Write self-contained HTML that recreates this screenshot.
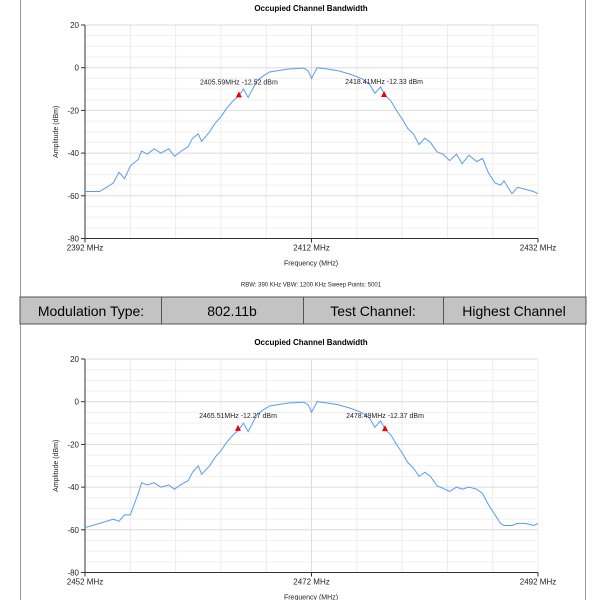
<!DOCTYPE html>
<html><head><meta charset="utf-8">
<style>
body{margin:0;background:#fff;width:600px;height:600px;overflow:hidden;font-family:"Liberation Sans",sans-serif}
svg{position:absolute;left:0;top:0}
</style></head>
<body>
<svg id="s" width="600" height="600">
<line x1="20.5" y1="0" x2="20.5" y2="600" stroke="#999"/>
<line x1="585.5" y1="0" x2="585.5" y2="600" stroke="#999"/>
<g>
<rect x="20" y="297" width="566" height="27" fill="#c3c3c3" stroke="#555"/>
<line x1="161.5" y1="297" x2="161.5" y2="324" stroke="#555"/>
<line x1="303.5" y1="297" x2="303.5" y2="324" stroke="#555"/>
<line x1="443.5" y1="297" x2="443.5" y2="324" stroke="#555"/>
<text x="91" y="316" font-size="14" text-anchor="middle">Modulation Type:</text>
<text x="232" y="316" font-size="14" text-anchor="middle">802.11b</text>
<text x="373" y="316" font-size="14" text-anchor="middle">Test Channel:</text>
<text x="514" y="316" font-size="14" text-anchor="middle">Highest Channel</text>
</g>
</svg>
<script>
const offsets=[0,1.3,2.5,3.0,3.5,4.0,4.7,5.0,5.5,6.1,6.7,7.4,7.9,8.4,9.1,9.5,10.0,10.3,11.0,11.5,12.0,12.5,13.0,13.6,14.0,14.4,14.7,15.2,15.7,16.3,16.9,18.0,19.3,19.7,20.0,20.5,21.4,22.4,23.4,24.4,25.1,25.6,26.1,26.5,27.0,27.5,28.0,28.5,29.0,29.5,30.0,30.5,31.1,31.6,32.2,32.8,33.3,33.9,34.6,35.1,35.6,36.2,36.7,37.0,37.7,38.2,38.9,39.6,40];
const ampTop=[-58,-58,-54,-49,-52,-46,-43,-39,-40.5,-38,-40,-38,-41.5,-39.5,-37,-33,-31,-34.5,-30,-26,-23,-19,-16,-13,-10,-14,-11,-6,-4,-2,-1.5,-0.6,-0.2,-1.4,-5,0,-0.6,-1.5,-3,-5,-7.5,-12,-9,-13,-15.5,-20,-24,-28.5,-31,-36,-33,-35,-39.5,-40.5,-43.5,-40.5,-45,-41,-44,-42.5,-49,-54,-55,-53,-59,-56,-57,-58,-59];
const ampBot=[-59,-57,-55,-56,-53,-53,-43,-38,-39,-38,-40,-39,-41,-39,-37,-33,-30,-34,-30,-26,-23,-19,-16,-13,-10,-14,-11,-6,-4,-2,-1.5,-0.6,-0.2,-1.4,-5,0,-0.6,-1.5,-3,-5,-7.5,-12,-9,-13,-15.5,-20,-24,-28.5,-31,-35,-33,-35,-39.5,-40.5,-42,-40,-41,-40,-41,-43,-48,-53,-57,-58,-58,-57,-57,-58,-57];
const yTicks=[20,0,-20,-40,-60,-80];
const charts=[
 {name:'top',start:2392,top:25,amp:ampTop,markers:[[2405.59,-12.52,'2405.59MHz  -12.52 dBm'],[2418.41,-12.33,'2418.41MHz  -12.33 dBm']],xl:['2392 MHz','2412 MHz','2432 MHz'],title:4,foot:true},
 {name:'bottom',start:2452,top:359,amp:ampBot,markers:[[2465.51,-12.27,'2465.51MHz  -12.27 dBm'],[2478.49,-12.37,'2478.49MHz  -12.37 dBm']],xl:['2452 MHz','2472 MHz','2492 MHz'],title:338,foot:false}
];
const NS='http://www.w3.org/2000/svg',svg=document.getElementById('s');
function mk(t,a,p){const e=document.createElementNS(NS,t);for(const k in a)e.setAttribute(k,a[k]);(p||svg).appendChild(e);return e;}
charts.forEach(c=>{
 const L=85,R=538,T=c.top,B=c.top+213.5;
 const X=f=>L+(f-c.start)/40*(R-L), Y=v=>T+(20-v)/100*(B-T);
 const g=mk('g',{});
 
 
 const t=mk('text',{x:311,y:c.title+7,'font-size':8,'font-weight':'bold','text-anchor':'middle'},g);t.textContent='Occupied Channel Bandwidth';
 
 for(let v=15;v>-80;v-=5){if(v%20)mk('line',{x1:L,x2:R,y1:Y(v),y2:Y(v),stroke:'#f0f0f0'},g);}
 for(let i=1;i<=10;i++)mk('line',{x1:X(c.start+i*4),x2:X(c.start+i*4),y1:T,y2:B,stroke:'#ececec'},g);
 yTicks.forEach(v=>{mk('line',{x1:L,x2:R,y1:Y(v),y2:Y(v),stroke:'#dcdcdc'},g);
  mk('line',{x1:L-4,x2:L,y1:Y(v),y2:Y(v),stroke:'#333'},g);
  const tx=mk('text',{x:L-6,y:Y(v)+3,'font-size':8,'text-anchor':'end',fill:'#222'},g);tx.textContent=v;
  });
 mk('line',{x1:X(c.start+20),x2:X(c.start+20),y1:T,y2:B,stroke:'#ddd'},g);
 mk('line',{x1:L,x2:L,y1:T,y2:B,stroke:'#333'},g);
 mk('line',{x1:L,x2:R,y1:B,y2:B,stroke:'#333'},g);
 c.xl.forEach((s,i)=>{const xx=X(c.start+i*20);mk('line',{x1:xx,x2:xx,y1:B,y2:B+4,stroke:'#333'},g);
  const tx=mk('text',{x:xx,y:B+12,'font-size':8,'text-anchor':'middle',fill:'#222'},g);tx.textContent=s;
  });
 const xt=mk('text',{x:311,y:B+27,'font-size':7,'text-anchor':'middle',fill:'#222'},g);xt.textContent='Frequency (MHz)';
 
 const yt=mk('text',{x:0,y:0,'font-size':7,'text-anchor':'middle',fill:'#222',transform:`translate(58,${Y(-30)}) rotate(-90)`},g);yt.textContent='Amplitude (dBm)';
 
 const d=offsets.map((o,i)=>(i?'L':'M')+X(c.start+o).toFixed(1)+','+Y(c.amp[i]).toFixed(1)).join('');
 const p=mk('path',{d:d,fill:'none',stroke:'#5b9bef','stroke-width':1},g);
 
 c.markers.forEach(m=>{const mx=X(m[0]),my=Y(m[1]);
  const tri=mk('polygon',{points:`${mx-3},${my+3} ${mx+3},${my+3} ${mx},${my-3}`,fill:'#e00'},g);
  
  const tx=mk('text',{x:mx,y:my-10,'font-size':7,'text-anchor':'middle',fill:'#222'},g);tx.textContent=m[2];
  });
 if(c.foot){const f=mk('text',{x:311,y:B+48,'font-size':6,'text-anchor':'middle',fill:'#222'},g);f.textContent='RBW: 390 KHz    VBW: 1200 KHz    Sweep Points: 5001';
  }
});
</script>
</body></html>
